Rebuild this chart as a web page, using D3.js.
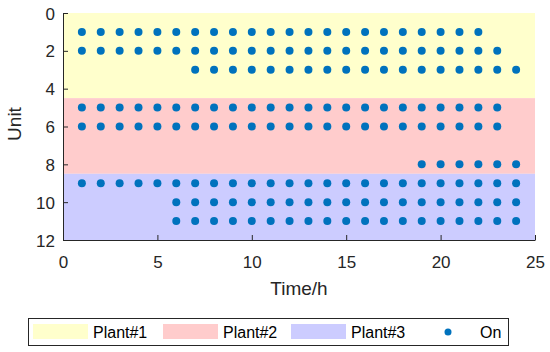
<!DOCTYPE html>
<html><head><meta charset="utf-8">
<script src="https://cdn.jsdelivr.net/npm/d3@7"></script>
<style>body{margin:0;background:#fff;} text{font-family:"Liberation Sans",Arial,sans-serif;}</style>
</head><body>
<svg id="c" width="550" height="352"></svg>
<script>
const plants = ["Plant#1","Plant#2","Plant#3"];
const plantRanges = [[0,4.5],[4.5,8.5],[8.5,12]];
const plantColors = ["#FFFFCC","#FFCCCC","#CCCCFF"];
const units = [1,2,3,5,6,8,9,10,11];
const unitStart = [1,1,7,1,1,19,1,6,6];
const unitEnd = [22,23,24,23,23,24,24,24,24];
const xTicks = [0,5,10,15,20,25];
const yTicks = [0,2,4,6,8,10,12];

const svg = d3.select("#c");
const L=63,R=535,T=13,B=240;
const x = d3.scaleLinear().domain([0,25]).range([L,R]);
const y = d3.scaleLinear().domain([0,12]).range([T,B]);
const axisColor="#262626";

svg.selectAll("rect.band").data(plants).enter().append("rect")
  .attr("x",x(0)).attr("width",x(25)-x(0))
  .attr("y",(d,i)=>y(plantRanges[i][0]))
  .attr("height",(d,i)=>y(plantRanges[i][1])-y(plantRanges[i][0]))
  .attr("fill",(d,i)=>plantColors[i]);

const pts=[];
units.forEach((u,i)=>{for(let t=unitStart[i];t<=unitEnd[i];t++)pts.push([t,u]);});
svg.selectAll("circle.p").data(pts).enter().append("circle")
  .attr("cx",d=>x(d[0])).attr("cy",d=>y(d[1])).attr("r",4).attr("fill","#0072BD");

const xa = svg.append("g").attr("transform",`translate(0,${B})`)
  .call(d3.axisBottom(x).tickValues(xTicks).tickSizeInner(-5).tickSizeOuter(0));
xa.selectAll(".tick text").attr("y",28).attr("dy",0);
const ya = svg.append("g").attr("transform",`translate(${L},0)`)
  .call(d3.axisLeft(y).tickValues(yTicks).tickSizeInner(-5).tickSizeOuter(0));
ya.selectAll(".tick text").attr("x",-8).attr("dy","0.36em");
[xa,ya].forEach(a=>{
  a.selectAll("path,line").attr("stroke",axisColor);
  a.selectAll("text").attr("fill",axisColor).style("font-size","17px").style("font-family","Liberation Sans, Arial, sans-serif");
});

svg.append("text").attr("x",x(12.5)).attr("y",295).attr("text-anchor","middle")
  .attr("fill",axisColor).style("font-size","19px").text("Time/h");
svg.append("text").attr("transform",`translate(21,124) rotate(-90)`).attr("text-anchor","middle")
  .attr("fill",axisColor).style("font-size","19px").text("Unit");

// legend
const lg = svg.append("g");
lg.append("rect").attr("x",28.5).attr("y",318.5).attr("width",480).attr("height",27)
  .attr("fill","#fff").attr("stroke","#262626").attr("stroke-width",1);
const swX=[33,163,291];
plants.forEach((p,i)=>{
  lg.append("rect").attr("x",swX[i]).attr("y",324).attr("width",55).attr("height",15).attr("fill",plantColors[i]);
  lg.append("text").attr("x",swX[i]+60).attr("y",338).attr("fill","#000").style("font-size","16px").text(p);
});
lg.append("circle").attr("cx",448).attr("cy",332).attr("r",3.5).attr("fill","#0072BD");
lg.append("text").attr("x",480).attr("y",338).attr("fill","#000").style("font-size","16px").text("On");
</script>
</body></html>
